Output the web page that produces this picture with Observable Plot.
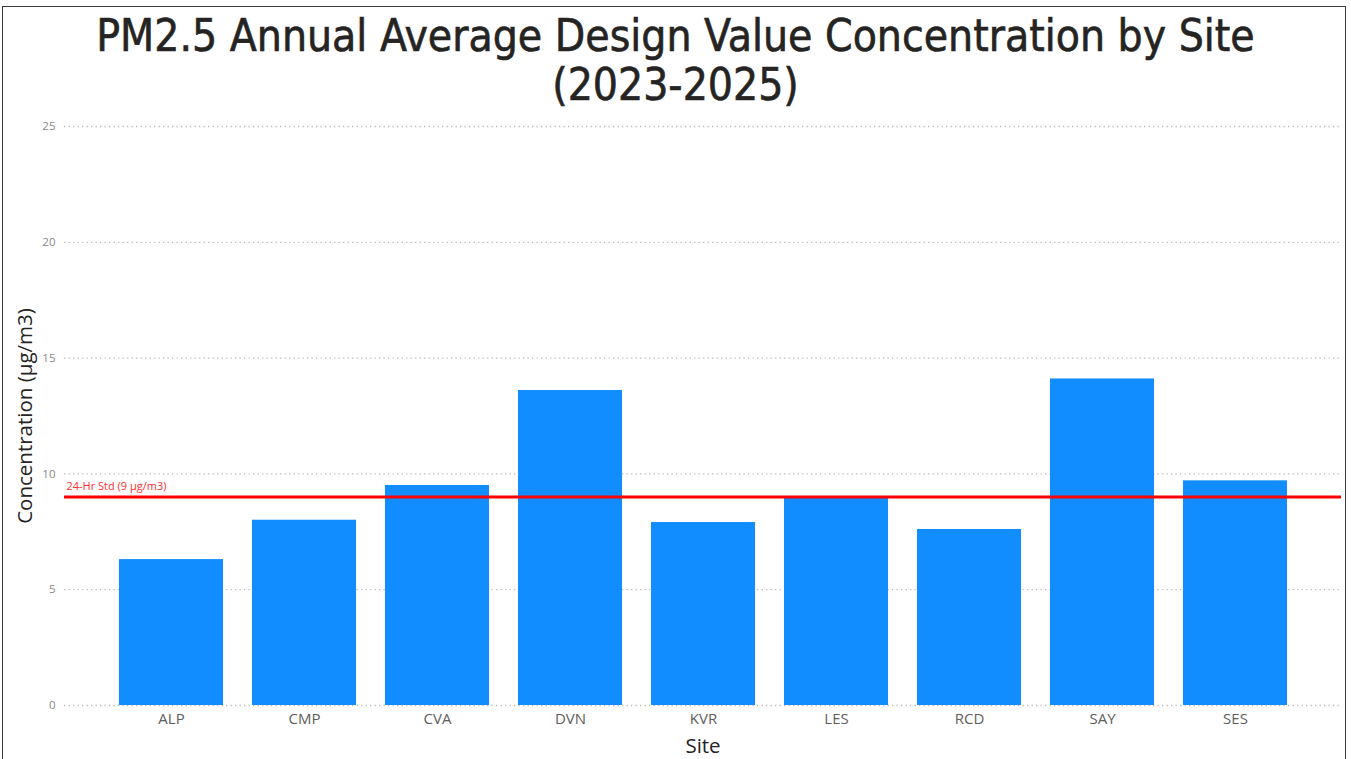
<!DOCTYPE html>
<html><head><meta charset="utf-8">
<script src="https://cdn.jsdelivr.net/npm/d3@7"></script>
<script src="https://cdn.jsdelivr.net/npm/@observablehq/plot@0.6"></script>
<style>
body{margin:0;background:#fff;width:1351px;height:759px;overflow:hidden;position:relative;}
#frame{position:absolute;left:2px;top:6px;width:1344px;height:770px;border:1.5px solid #3a3a3a;box-sizing:border-box;}
#title{position:absolute;left:0;top:11px;width:1351px;text-align:center;font-family:"DejaVu Sans Condensed","DejaVu Sans";font-stretch:condensed;font-size:44px;line-height:49px;color:#252423;-webkit-text-stroke:0.6px #252423;}
#chart{position:absolute;left:0;top:110px;}
</style></head>
<body>
<div id="frame"></div>
<div id="title">PM2.5 Annual Average Design Value Concentration by Site<br>(2023-2025)</div>
<div id="chart"></div>
<script>
const sites = ["ALP","CMP","CVA","DVN","KVR","LES","RCD","SAY","SES"];
const values = [6.3, 8.0, 9.5, 13.6, 7.9, 9.0, 7.6, 14.1, 9.7];
const yTicks = [0, 5, 10, 15, 20, 25];
const standardValue = 9;
const standardLabel = "24-Hr Std (9 μg/m3)";
const xLabel = "Site";
const yLabel = "Concentration (μg/m3)";

const data = sites.map((s, i) => ({site: s, value: values[i]}));

const chart = Plot.plot({
  width: 1351, height: 649,
  marginLeft: 64, marginRight: 10, marginTop: 16, marginBottom: 54,
  style: {fontFamily: "'Open Sans', 'Noto Sans', sans-serif", background: "transparent"},
  x: {domain: sites, paddingInner: 0.22, paddingOuter: 0.41, label: null},
  y: {domain: [0, 25], ticks: yTicks, label: null},
  marks: [
    Plot.ruleY(yTicks, {stroke: "#bdbbb9", strokeWidth: 1.3, strokeDasharray: "1.3,3.2"}),
    Plot.barY(data, {x: "site", y: "value", fill: "#118DFF"}),
    Plot.ruleY([standardValue], {stroke: "#FF0000", strokeWidth: 3}),
    Plot.text([standardValue], {y: d => d, text: () => standardLabel, frameAnchor: "left", dx: 2, dy: -11, textAnchor: "start", fill: "#FF3030", fontSize: 11}),
    Plot.axisY({ticks: yTicks, tickSize: 0, tickPadding: 9, fill: "#888888", fontSize: 11.5, label: null}),
    Plot.axisX({tickSize: 0, tickPadding: 8, fill: "#605E5C", fontSize: 15, label: null}),
    Plot.text([yLabel], {frameAnchor: "left", rotate: -90, dx: -39, textAnchor: "middle", fill: "#252423", fontSize: 20.5}),
    Plot.text([xLabel], {frameAnchor: "bottom", dy: 47, textAnchor: "middle", fill: "#252423", fontSize: 20.5})
  ]
});
document.getElementById("chart").appendChild(chart);
</script>
</body></html>
